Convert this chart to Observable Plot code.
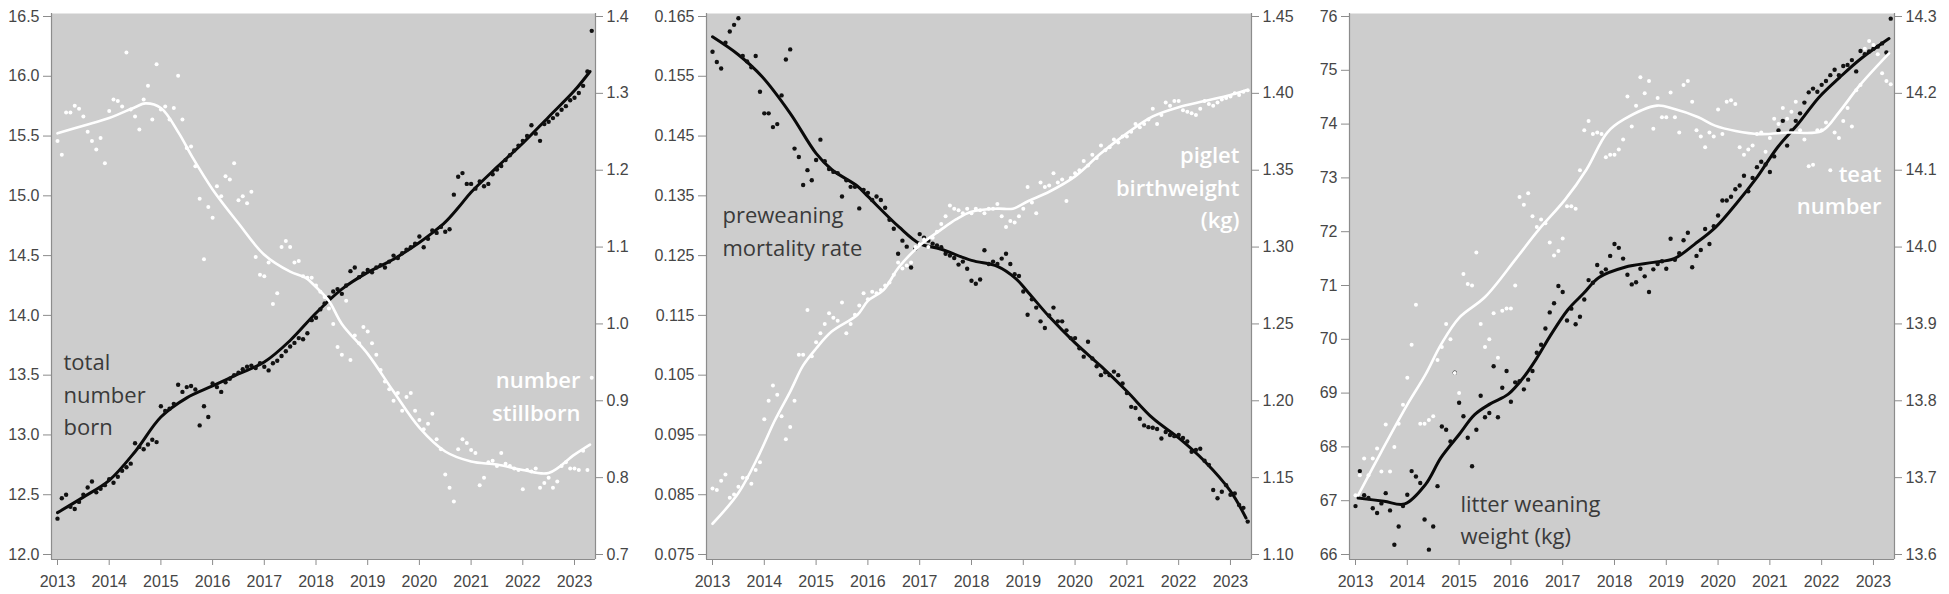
<!DOCTYPE html>
<html><head><meta charset="utf-8">
<script src="https://cdn.jsdelivr.net/npm/d3@7"></script>
<script src="https://cdn.jsdelivr.net/npm/@observablehq/plot@0.6"></script>
<style>
body{margin:0;background:#fff;}
#wrap{position:relative;width:1949px;height:594px;overflow:hidden;background:#fff;}
.panel{position:absolute;top:0;height:594px;}
.panel svg{position:absolute;left:0;top:0;max-width:none;}
g[aria-label$="axis tick"] path{stroke:#8c8c8c;}
</style></head><body><div id="wrap"></div>
<script>
// ---------- axis ticks ----------
const yearTicks = [2013,2014,2015,2016,2017,2018,2019,2020,2021,2022,2023];
const p1LeftTicks = [12.0,12.5,13.0,13.5,14.0,14.5,15.0,15.5,16.0,16.5];
const p1RightTicks = [0.7,0.8,0.9,1.0,1.1,1.2,1.3,1.4];
const p2LeftTicks = [0.075,0.085,0.095,0.105,0.115,0.125,0.135,0.145,0.155,0.165];
const p2RightTicks = [1.10,1.15,1.20,1.25,1.30,1.35,1.40,1.45];
const p3LeftTicks = [66,67,68,69,70,71,72,73,74,75,76];
const p3RightTicks = [13.6,13.7,13.8,13.9,14.0,14.1,14.2,14.3];

// ---------- series labels ----------
const p1LeftLabel = "total\nnumber\nborn";
const p1RightLabel = "number\nstillborn";
const p2LeftLabel = "preweaning\nmortality rate";
const p2RightLabel = "piglet\nbirthweight\n(kg)";
const p3LeftLabel = "litter weaning\nweight (kg)";
const p3RightLabel = "teat\nnumber";

// ---------- monthly observations (Jan 2013 ... May 2023) ----------
const startYear = 2013;
const totalBorn = [
12.30,12.47,12.50,12.40,12.38,12.44,12.50,12.56,12.61,12.52,12.55,12.58,
12.63,12.60,12.65,12.70,12.73,12.76,12.93,12.90,12.88,12.92,12.96,12.94,
13.24,13.20,13.22,13.26,13.42,13.36,13.40,13.41,13.38,13.08,13.24,13.15,
13.43,13.40,13.36,13.44,13.47,13.50,13.52,13.55,13.57,13.58,13.56,13.60,
13.57,13.54,13.60,13.62,13.66,13.70,13.74,13.77,13.81,13.80,13.85,13.96,
13.98,14.05,14.10,14.15,14.20,14.22,14.18,14.25,14.37,14.40,14.32,14.35,
14.38,14.36,14.40,14.42,14.40,14.45,14.50,14.48,14.52,14.55,14.57,14.60,
14.66,14.57,14.64,14.71,14.69,14.74,14.70,14.72,15.01,15.16,15.19,15.10,
15.10,15.06,15.12,15.08,15.10,15.18,15.22,15.25,15.30,15.34,15.38,15.42,
15.46,15.50,15.59,15.52,15.46,15.60,15.62,15.65,15.68,15.72,15.75,15.80,
15.82,15.86,15.92,16.04,16.38];
const stillborn = [
1.238,1.220,1.275,1.275,1.284,1.280,1.270,1.250,1.238,1.227,1.242,1.209,
1.277,1.292,1.290,1.283,1.353,1.279,1.270,1.253,1.292,1.310,1.266,1.338,
1.279,1.283,1.266,1.281,1.323,1.266,1.229,1.231,1.205,1.163,1.084,1.152,
1.138,1.179,1.166,1.192,1.188,1.209,1.161,1.166,1.157,1.172,1.087,1.064,
1.062,1.080,1.026,1.040,1.100,1.108,1.100,1.080,1.082,1.062,1.060,1.060,
1.050,1.042,1.035,1.020,1.000,0.970,0.960,1.030,0.953,0.985,0.975,0.996,
0.990,0.975,0.960,0.940,0.925,0.915,0.900,0.910,0.887,0.905,0.910,0.887,
0.875,0.863,0.870,0.883,0.850,0.837,0.804,0.787,0.769,0.837,0.850,0.845,
0.836,0.832,0.790,0.800,0.820,0.822,0.815,0.832,0.818,0.815,0.812,0.810,
0.785,0.810,0.808,0.812,0.787,0.793,0.800,0.787,0.795,0.815,0.820,0.812,
0.812,0.810,0.835,0.810,0.930];
const mortality = [
0.1591,0.1574,0.1563,0.1606,0.1625,0.1636,0.1647,0.1584,0.1575,0.1565,0.1584,0.1524,
0.1488,0.1488,0.1465,0.1470,0.1518,0.1578,0.1595,0.1429,0.1415,0.1368,0.1393,0.1376,
0.1410,0.1444,0.1408,0.1395,0.1390,0.1388,0.1349,0.1376,0.1365,0.1365,0.1329,0.1360,
0.1355,0.1343,0.1349,0.1343,0.1330,0.1310,0.1295,0.1253,0.1275,0.1265,0.1230,0.1262,
0.1286,0.1280,0.1275,0.1270,0.1267,0.1264,0.1253,0.1250,0.1246,0.1235,0.1240,0.1228,
0.1208,0.1203,0.1210,0.1259,0.1236,0.1240,0.1236,0.1245,0.1253,0.1236,0.1219,0.1216,
0.1190,0.1151,0.1177,0.1163,0.1140,0.1129,0.1150,0.1163,0.1140,0.1140,0.1125,0.1112,
0.1112,0.1095,0.1081,0.1106,0.1078,0.1065,0.1050,0.1055,0.1050,0.1056,0.1050,0.1036,
0.1020,0.0997,0.0995,0.0977,0.0966,0.0963,0.0962,0.0960,0.0944,0.0955,0.0950,0.0948,
0.0950,0.0945,0.0939,0.0922,0.0925,0.0927,0.0907,0.0900,0.0858,0.0844,0.0855,0.0866,
0.0850,0.0852,0.0833,0.0828,0.0805];
const birthweight = [
1.143,1.142,1.148,1.152,1.137,1.139,1.144,1.150,1.150,1.146,1.155,1.160,
1.188,1.200,1.210,1.204,1.190,1.175,1.183,1.200,1.230,1.230,1.259,1.229,
1.238,1.244,1.250,1.257,1.254,1.252,1.264,1.244,1.250,1.256,1.262,1.270,
1.266,1.271,1.270,1.272,1.275,1.277,1.282,1.290,1.286,1.288,1.290,1.300,
1.302,1.305,1.300,1.306,1.310,1.315,1.320,1.327,1.325,1.324,1.322,1.325,
1.322,1.325,1.324,1.322,1.325,1.325,1.328,1.320,1.313,1.317,1.316,1.320,
1.325,1.339,1.329,1.322,1.342,1.339,1.340,1.348,1.342,1.344,1.330,1.345,
1.348,1.350,1.356,1.353,1.360,1.358,1.366,1.363,1.365,1.370,1.368,1.372,
1.372,1.375,1.380,1.378,1.380,1.383,1.390,1.380,1.386,1.394,1.392,1.395,
1.395,1.389,1.388,1.387,1.386,1.390,1.395,1.393,1.392,1.394,1.396,1.397,
1.398,1.400,1.399,1.401,1.402];
const weaningWeight = [
66.90,67.55,67.10,67.05,66.86,66.77,66.95,67.14,66.82,66.18,66.52,66.90,
67.11,67.55,67.45,67.33,66.65,66.09,66.52,67.27,68.38,68.32,68.10,69.38,
68.82,68.57,68.17,67.64,68.32,68.95,68.55,68.63,69.50,68.55,69.10,69.41,
68.84,69.20,69.22,69.07,69.25,69.41,69.75,69.90,70.20,70.50,70.67,70.99,
70.88,70.35,70.57,70.28,70.42,70.74,71.10,71.05,71.38,71.24,71.30,71.55,
71.77,71.70,71.50,71.20,71.02,71.06,71.31,71.17,70.88,71.30,71.40,71.45,
71.31,71.87,71.48,71.60,71.84,71.98,71.34,71.55,71.66,72.05,71.77,72.10,
72.30,72.58,72.58,72.65,72.79,72.86,73.04,72.75,73.00,73.20,73.30,73.25,
73.11,73.40,73.88,74.06,73.60,73.88,74.06,74.20,74.40,74.59,74.66,74.60,
74.73,74.80,74.91,75.01,74.91,75.08,75.10,75.19,74.98,75.36,75.30,75.35,
75.40,75.44,75.50,75.33,75.96];
const teatNumber = [
13.677,13.703,13.725,13.703,13.725,13.738,13.708,13.769,13.708,13.740,13.770,13.795,
13.830,13.873,13.925,13.770,13.770,13.775,13.780,13.853,13.870,13.900,13.880,13.836,
13.810,13.965,13.952,13.950,13.993,13.900,13.870,13.880,13.914,13.856,13.917,13.920,
13.920,13.950,14.065,14.055,14.070,14.040,14.026,14.036,14.031,14.006,13.989,13.995,
14.011,14.053,14.053,14.050,14.100,14.152,14.164,14.147,14.149,14.147,14.117,14.120,
14.120,14.127,14.140,14.196,14.157,14.184,14.221,14.200,14.216,14.154,14.194,14.169,
14.169,14.201,14.169,14.149,14.211,14.216,14.189,14.152,14.144,14.130,14.149,14.144,
14.179,14.147,14.189,14.191,14.186,14.130,14.120,14.127,14.132,14.147,14.149,14.124,
14.142,14.167,14.160,14.181,14.167,14.176,14.189,14.152,14.140,14.105,14.107,14.152,
14.152,14.162,14.100,14.149,14.142,14.164,14.181,14.157,14.204,14.211,14.258,14.268,
14.263,14.251,14.226,14.216,14.212];

// ---------- smoothed trends (read at knots) ----------
const totalBornTrendT = [2013.0,2013.5,2014.0,2014.5,2015.0,2015.5,2016.0,2016.5,2017.0,2017.5,2018.0,2018.5,2019.0,2019.5,2020.0,2020.25,2020.5,2020.75,2021.0,2021.5,2022.0,2022.5,2023.0,2023.3];
const totalBornTrendV = [12.35,12.48,12.62,12.86,13.15,13.31,13.41,13.51,13.61,13.79,14.02,14.22,14.36,14.47,14.61,14.69,14.78,14.90,15.03,15.24,15.44,15.66,15.88,16.04];
const stillbornTrendT = [2013.0,2013.5,2014.0,2014.5,2014.7,2015.0,2015.35,2015.6,2016.0,2016.5,2017.0,2017.5,2017.8,2018.0,2018.25,2018.5,2019.0,2019.5,2020.0,2020.5,2021.0,2021.5,2022.0,2022.5,2023.0,2023.3];
const stillbornTrendV = [1.248,1.258,1.268,1.282,1.287,1.281,1.248,1.218,1.175,1.131,1.090,1.068,1.060,1.048,1.030,1.000,0.961,0.912,0.865,0.834,0.821,0.817,0.810,0.806,0.830,0.843];
const mortalityTrendT = [2013.0,2013.5,2013.95,2014.5,2015.0,2015.3,2015.8,2016.0,2016.6,2017.0,2017.4,2018.0,2018.5,2018.85,2019.1,2019.5,2020.0,2020.5,2021.0,2021.5,2022.0,2022.5,2023.0,2023.3];
const mortalityTrendV = [0.1616,0.1586,0.1550,0.1488,0.1421,0.1394,0.1366,0.1349,0.1298,0.1270,0.1261,0.1242,0.1232,0.1212,0.1188,0.1148,0.1104,0.1065,0.1023,0.0978,0.0945,0.0906,0.0856,0.0811];
const birthweightTrendT = [2013.0,2013.5,2013.9,2014.2,2014.5,2014.75,2015.0,2015.3,2015.8,2016.0,2016.3,2016.6,2017.0,2017.4,2017.7,2018.0,2018.5,2018.8,2019.1,2019.5,2020.0,2020.5,2021.0,2021.5,2022.0,2022.5,2023.0,2023.3];
const birthweightTrendV = [1.120,1.140,1.165,1.187,1.206,1.223,1.234,1.245,1.256,1.265,1.272,1.287,1.301,1.311,1.318,1.323,1.325,1.325,1.330,1.336,1.346,1.361,1.374,1.385,1.391,1.395,1.399,1.402];
const weaningTrendT = [2013.05,2013.55,2013.95,2014.35,2014.65,2015.0,2015.3,2015.6,2015.95,2016.25,2016.5,2016.75,2017.1,2017.4,2017.7,2018.2,2018.75,2019.15,2019.55,2019.95,2020.35,2020.75,2021.15,2021.55,2021.95,2022.35,2022.75,2023.3];
const weaningTrendV = [67.05,66.99,66.94,67.30,67.80,68.23,68.60,68.80,68.98,69.30,69.65,70.05,70.55,70.85,71.15,71.34,71.43,71.50,71.77,72.08,72.52,73.01,73.57,74.01,74.50,74.87,75.21,75.59];
const teatTrendT = [2013.05,2013.5,2014.0,2014.35,2014.65,2015.0,2015.5,2016.1,2016.53,2017.05,2017.46,2017.86,2018.18,2018.82,2019.14,2019.62,2019.94,2020.34,2020.8,2021.36,2022.0,2022.33,2022.73,2023.3];
const teatTrendV = [13.677,13.734,13.795,13.834,13.873,13.908,13.935,13.985,14.022,14.062,14.101,14.149,14.166,14.184,14.180,14.169,14.158,14.151,14.147,14.149,14.151,14.175,14.210,14.252];

// ---------- helpers ----------
const monthly = vals => vals.map((v, i) => ({t: startYear + i / 12, v}));
const knots = (T, V) => T.map((t, i) => ({t, v: V[i]}));
const H = 594, MT = 13, MB = 35;
// first tick sits 5px above the frame bottom, last tick 3px below the frame top
const ext = ticks => { const b = d3.min(ticks), t = d3.max(ticks), k = (t - b) / 538; return [b - 5 * k, t + 3 * k]; };
const xDomain = [2013 - 6 / 51.7, 2023 + 21 / 51.7];
const tickFont = "'Liberation Sans', Arial, sans-serif";
const labelFont = "'Open Sans', 'Noto Sans', sans-serif";

const panels = [
  {left: 0, width: 650, ml: 51, mr: 55,
   lt: p1LeftTicks, lf: ".1f", rt: p1RightTicks, rf: ".1f",
   lData: totalBorn, rData: stillborn,
   lTrend: knots(totalBornTrendT, totalBornTrendV), rTrend: knots(stillbornTrendT, stillbornTrendV),
   lLab: p1LeftLabel, lDx: 12, lDy: 421, lLh: 1.455,
   rLab: p1RightLabel, rDx: -15, rDy: 407, rLh: 1.5},
  {left: 650, width: 650, ml: 56, mr: 49,
   lt: p2LeftTicks, lf: ".3f", rt: p2RightTicks, rf: ".2f",
   lData: mortality, rData: birthweight,
   lTrend: knots(mortalityTrendT, mortalityTrendV), rTrend: knots(birthweightTrendT, birthweightTrendV),
   lLab: p2LeftLabel, lDx: 16, lDy: 242, lLh: 1.5,
   rLab: p2RightLabel, rDx: -12, rDy: 214, rLh: 1.455},
  {left: 1300, width: 649, ml: 49, mr: 55,
   lt: p3LeftTicks, lf: "d", rt: p3RightTicks, rf: ".1f",
   lData: weaningWeight, rData: teatNumber,
   lTrend: knots(weaningTrendT, weaningTrendV), rTrend: knots(teatTrendT, teatTrendV),
   lLab: p3LeftLabel, lDx: 111, lDy: 530, lLh: 1.455,
   rLab: p3RightLabel, rDx: -13, rDy: 200, rLh: 1.41}
];

const wrap = document.getElementById("wrap");
for (const p of panels) {
  const div = document.createElement("div");
  div.className = "panel";
  div.style.left = p.left + "px";
  div.style.width = p.width + "px";
  const common = {
    width: p.width, height: H, marginLeft: p.ml, marginRight: p.mr, marginTop: MT, marginBottom: MB,
    style: {background: "transparent", fontFamily: tickFont, fontSize: "16px", color: "#464646", overflow: "visible"}
  };
  const yL = ext(p.lt);
  const base = Plot.plot({
    ...common,
    x: {domain: xDomain, ticks: yearTicks, tickFormat: "d", tickSize: 6, tickPadding: 10, label: null},
    y: {domain: yL, ticks: p.lt, tickFormat: p.lf, tickSize: 8, tickPadding: 4, label: null},
    marks: [
      Plot.frame({fill: "#cdcdcd", stroke: "none"}),
      Plot.ruleX(xDomain, {stroke: "#8c8c8c", strokeWidth: 1.2}),
      Plot.ruleY([yL[0]], {stroke: "#8c8c8c", strokeWidth: 1.2}),
      Plot.line(p.lTrend, {x: "t", y: "v", curve: "catmull-rom", stroke: "#0a0a0a", strokeWidth: 3}),
      Plot.dot(monthly(p.lData), {x: "t", y: "v", r: 2.2, fill: "#111111", stroke: "none"}),
      Plot.text([p.lLab], {frameAnchor: "top-left", textAnchor: "start", lineAnchor: "bottom",
        dx: p.lDx, dy: p.lDy, lineHeight: p.lLh, fontSize: 22, fontFamily: labelFont, fill: "#3a3a3a"})
    ]
  });
  const over = Plot.plot({
    ...common,
    x: {domain: xDomain, axis: null},
    y: {domain: ext(p.rt), ticks: p.rt, tickFormat: p.rf, axis: "right", tickSize: 7, tickPadding: 4, label: null},
    marks: [
      Plot.line(p.rTrend, {x: "t", y: "v", curve: "catmull-rom", stroke: "#ffffff", strokeWidth: 2.6}),
      Plot.dot(monthly(p.rData), {x: "t", y: "v", r: 2, fill: "#ffffff", stroke: "none"}),
      Plot.text([p.rLab], {frameAnchor: "top-right", textAnchor: "end", lineAnchor: "bottom",
        dx: p.rDx, dy: p.rDy, lineHeight: p.rLh, fontSize: 22, fontWeight: 600, fontFamily: labelFont, fill: "#ffffff"})
    ]
  });
  div.appendChild(base);
  div.appendChild(over);
  wrap.appendChild(div);
}
</script>
</body></html>
